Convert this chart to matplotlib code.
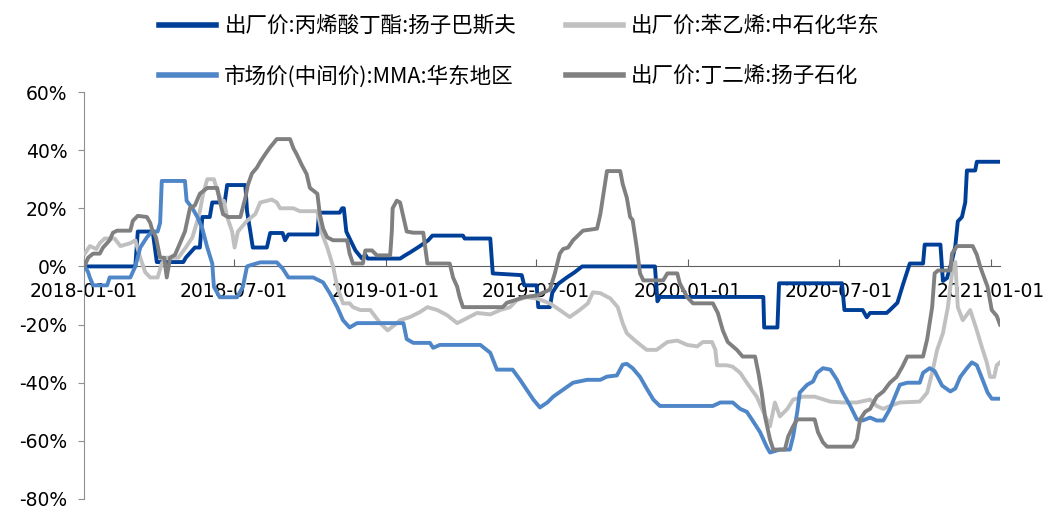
import numpy as np
import pandas as pd
import matplotlib
matplotlib.use("Agg")
from matplotlib import pyplot as plt
import matplotlib.dates as mdates
from matplotlib.font_manager import FontProperties
from matplotlib.ticker import FuncFormatter

start = pd.Timestamp("2018-01-01")

# days since 2018-01-01 and year-on-year change (%)
ba_days = [0, 62, 65, 83, 88, 120, 123, 134, 140, 143, 152, 155, 170, 173, 195, 197, 201, 204, 221, 225,
           240, 243, 247, 282, 284, 309, 312, 314, 317, 322, 328, 336, 340, 343, 382, 388, 394, 406, 416, 421,
           458, 460, 491, 494, 529, 532, 547, 549, 563, 566, 573, 584, 593, 602, 690, 693, 696, 821, 822, 838,
           840, 916, 919, 941, 946, 950, 970, 974, 983, 990, 998, 1014, 1016, 1035, 1038, 1043, 1049, 1053,
           1056, 1061, 1065, 1067, 1077, 1079, 1107]
ba_vals = [0, 0, 12, 12, 1.5, 1.5, 3, 6.5, 6.5, 17, 17, 22, 22, 28, 28, 19, 12, 6.5, 6.5, 11.5,
           11.5, 9, 11, 11, 18.5, 18.5, 20, 20, 12, 9, 5.5, 2.7, 4, 2.7, 2.7, 3.8, 4.8, 7, 9, 10.6,
           10.6, 9.6, 9.6, -2.4, -3, -6.5, -6.5, -14, -14, -9, -6, -3.7, -2, 0, 0, -12, -10.5, -10.5, -21, -21,
           -5.8, -5.8, -15, -15, -17.5, -16, -16, -15, -12.5, -6, 1, 1, 7.5, 7.5, -5, -4, 2, 7,
           15.5, 17, 22, 33, 33, 36, 36]

sm_days = [1, 7, 15, 19, 25, 37, 44, 56, 62, 68, 74, 80, 89, 94, 99, 114, 123, 131, 137, 140,
           144, 149, 157, 161, 166, 169, 173, 179, 182, 186, 192, 197, 207, 213, 227, 233, 237, 253, 261, 282,
           288, 294, 301, 306, 313, 321, 325, 334, 346, 358, 367, 376, 382, 394, 406, 415, 427, 439, 451, 458,
           475, 491, 503, 515, 523, 535, 547, 563, 575, 587, 599, 609, 615, 624, 636, 645, 651, 656, 668, 680,
           692, 705, 717, 729, 741, 748, 759, 763, 765, 777, 784, 793, 801, 813, 821, 829, 835, 841, 850, 857,
           869, 883, 902, 917, 934, 950, 958, 966, 974, 986, 1010, 1019, 1025, 1031, 1038, 1044, 1049, 1053,
           1056, 1062, 1066, 1071, 1079, 1085, 1091, 1095, 1100, 1103, 1107]
sm_vals = [4.4, 7, 6, 8, 9.6, 9.6, 7, 8, 9, 3, -2, -3.8, -3.8, 1, 3, 3, 6.5, 10, 15.7, 19,
           25, 30, 30, 26, 22.6, 22.6, 17, 12, 6.5, 12, 14, 15.7, 18, 22, 23, 22, 20, 20, 19, 19,
           11, 6.5, 0, -7, -12.7, -12.7, -14, -15, -15, -19.5, -22, -20, -18.5, -17.4, -15.7, -14, -15, -16.8, -19.5, -18.5,
           -16, -16.5, -15, -14, -11.6, -10.6, -11, -12.7, -15, -17.4, -15, -12.7, -8.9, -9.2, -11, -14, -19.5, -23, -26, -28.7,
           -28.7, -26, -25.5, -27, -27.5, -26, -26, -28.7, -34, -34, -34.5, -36.6, -40, -44.8, -50, -55, -46.8, -51.6, -49, -45.8,
           -44.8, -44.8, -46.5, -46.8, -46.8, -45.8, -48, -49, -48, -46.8, -46.5, -43.4, -36.6, -28.7, -23, -14, -2.4, 1.5,
           -14, -18.5, -17, -15, -22, -27.7, -33, -38, -38, -34, -33]

mma_days = [1, 5, 7, 11, 28, 31, 56, 62, 68, 76, 82, 89, 92, 94, 122, 124, 131, 137, 143, 149,
            155, 157, 164, 185, 192, 197, 201, 213, 233, 240, 247, 277, 289, 297, 306, 313, 321, 330, 386, 390,
            398, 418, 422, 430, 479, 491, 499, 518, 527, 535, 543, 551, 560, 567, 579, 591, 608, 624, 632, 644,
            651, 656, 663, 672, 680, 688, 696, 760, 769, 784, 793, 801, 808, 817, 825, 829, 841, 853, 857, 862,
            865, 874, 881, 886, 893, 902, 910, 917, 926, 934, 941, 950, 958, 966, 974, 982, 986, 995, 1010, 1014,
            1022, 1028, 1037, 1047, 1053, 1059, 1067, 1073, 1079, 1086, 1092, 1097, 1107]
mma_vals = [0, -2, -3.8, -6.5, -6.5, -3.8, -3.8, 0, 6.5, 10, 12, 12, 15, 29.4, 29.4, 22.6, 20, 17, 13, 6.5,
            1, -7, -10.6, -10.6, -7, 0, 0.4, 1.4, 1.4, -0.7, -3.8, -3.8, -5.5, -9.2, -14, -18.5, -21, -19.5, -19.5, -25,
            -26.3, -26.3, -28, -27, -27, -29.7, -35.5, -35.5, -39, -42.4, -45.8, -48.5, -46.8, -44.8, -42.4, -40, -39, -39, -37.9, -37.5,
            -33.8, -33.5, -35, -38, -42, -45.8, -48, -48, -46.8, -46.8, -49, -50, -53, -57, -62, -64, -63, -63, -58.5, -50,
            -43.4, -40.7, -39.6, -36.6, -35, -35.5, -39, -43.4, -48, -52.6, -53, -52, -53, -53, -49, -43.4, -40.7, -40, -40, -36.6,
            -35, -36, -41, -43, -42, -38, -35, -33, -34, -39, -43.4, -45.5, -45.5]

bd_days = [1, 5, 11, 19, 23, 31, 35, 40, 56, 59, 65, 76, 80, 82, 87, 92, 97, 100, 104, 110,
           116, 122, 128, 134, 140, 149, 161, 164, 168, 174, 189, 195, 198, 203, 209, 213, 219, 225, 233, 249,
           253, 257, 263, 269, 273, 282, 285, 289, 294, 301, 318, 321, 325, 337, 340, 348, 354, 370, 372, 373,
           378, 382, 386, 390, 398, 410, 415, 442, 446, 451, 454, 458, 506, 511, 521, 531, 547, 563, 569, 575,
           579, 585, 591, 603, 620, 624, 627, 632, 648, 651, 656, 660, 663, 668, 672, 676, 700, 705, 717, 720,
           729, 736, 760, 766, 772, 778, 789, 796, 811, 815, 819, 823, 829, 833, 847, 851, 857, 862, 883, 887,
           893, 898, 929, 934, 938, 944, 950, 958, 966, 974, 982, 989, 995, 1014, 1019, 1025, 1028, 1032, 1047, 1049,
           1055, 1074, 1079, 1083, 1086, 1092, 1097, 1103, 1107]
bd_vals = [0.3, 3, 4.4, 4.4, 6.5, 9, 11.6, 12.3, 12.3, 15.7, 17.4, 17, 15, 13, 10, 3, 3, -3.8, 3, 4,
           8, 12, 20, 21, 25, 27, 27, 22.6, 18, 17, 17, 23.6, 28, 32, 34, 36, 38.6, 41, 43.8, 43.8,
           40.7, 38.6, 35, 31.8, 27, 25, 18, 13, 10, 9, 9, 4.4, 1, 1, 5.5, 5.5, 3.8, 3.8, 12, 20,
           22.6, 22, 17, 12, 11.6, 11.6, 1, 1, -3.8, -7, -10.6, -14, -14, -12.5, -11.6, -10.6, -10, -8, -2.4, 4.4,
           6, 6.5, 9, 12.3, 13, 18, 23.6, 32.8, 32.8, 28.4, 23.6, 17, 16, 6.5, -2.4, -4.8, -4.8, -2.4, -2.4, -5.8,
           -10.6, -12.7, -12.7, -16, -22, -26, -28.7, -31, -31, -36.6, -43.4, -51.6, -59.5, -63, -63, -58.5, -55, -52.6, -52.6, -57,
           -60.5, -62, -62, -59.5, -52.6, -50, -49, -44.8, -43, -40, -38, -34.5, -31, -31, -25, -14, -2.4, -1.4, -1.4, 4.4,
           7, 7, 4, 0, -2.4, -7, -15, -17, -20]

labels = ["出厂价:丙烯酸丁酯:扬子巴斯夫", "市场价(中间价):MMA:华东地区",
          "出厂价:苯乙烯:中石化华东", "出厂价:丁二烯:扬子石化"]
colors = ["#003F98", "#4F86C8", "#C0C0C0", "#808080"]


def to_dates(days):
    return start + pd.to_timedelta(days, unit="D")


fig = plt.figure(figsize=(10.61, 5.09), dpi=100)
ax = fig.add_axes([84 / 1061, 10 / 509, 916 / 1061, 407 / 509])

lw = 2.8
l_ba, = ax.plot(to_dates(ba_days), ba_vals, color=colors[0], lw=lw, zorder=3)
l_sm, = ax.plot(to_dates(sm_days), sm_vals, color=colors[2], lw=lw, zorder=4)
l_mma, = ax.plot(to_dates(mma_days), mma_vals, color=colors[1], lw=lw, zorder=5)
l_bd, = ax.plot(to_dates(bd_days), bd_vals, color=colors[3], lw=lw, zorder=6)

ax.set_ylim(-80, 60)
ax.set_yticks(np.arange(-80, 61, 20))
ax.yaxis.set_major_formatter(FuncFormatter(lambda v, p: f"{v:.0f}%"))
ax.set_xlim(start, start + pd.Timedelta(days=1107))

ticks = pd.to_datetime(["2018-01-01", "2018-07-01", "2019-01-01", "2019-07-01",
                        "2020-01-01", "2020-07-01", "2021-01-01"])
ax.set_xticks(ticks)
ax.xaxis.set_major_formatter(mdates.DateFormatter("%Y-%m-%d"))

for s in ["top", "right"]:
    ax.spines[s].set_visible(False)
ax.spines["bottom"].set_position(("data", 0))
ax.spines["bottom"].set_color("#606060")
ax.spines["bottom"].set_linewidth(0.8)
ax.spines["left"].set_color("#909090")
ax.spines["left"].set_linewidth(0.8)

ax.tick_params(axis="x", direction="in", length=5, color="#606060", labelsize=13.5, pad=11)
ax.tick_params(axis="y", direction="out", length=4, color="#909090", labelsize=13.5, pad=8)

handles = [l_ba, l_mma, l_sm, l_bd]
leg = fig.legend(handles, labels, ncol=2, loc="upper left", bbox_to_anchor=(144 / 1061, 1.0),
                 frameon=False, prop=FontProperties(family="Noto Sans CJK SC", size=15.5),
                 handlelength=2.65, handletextpad=0.38, labelspacing=1.3, columnspacing=2.3,
                 borderaxespad=0.3)
for h in leg.legend_handles:
    h.set_linewidth(4)

fig.savefig("out.png", dpi=100)
